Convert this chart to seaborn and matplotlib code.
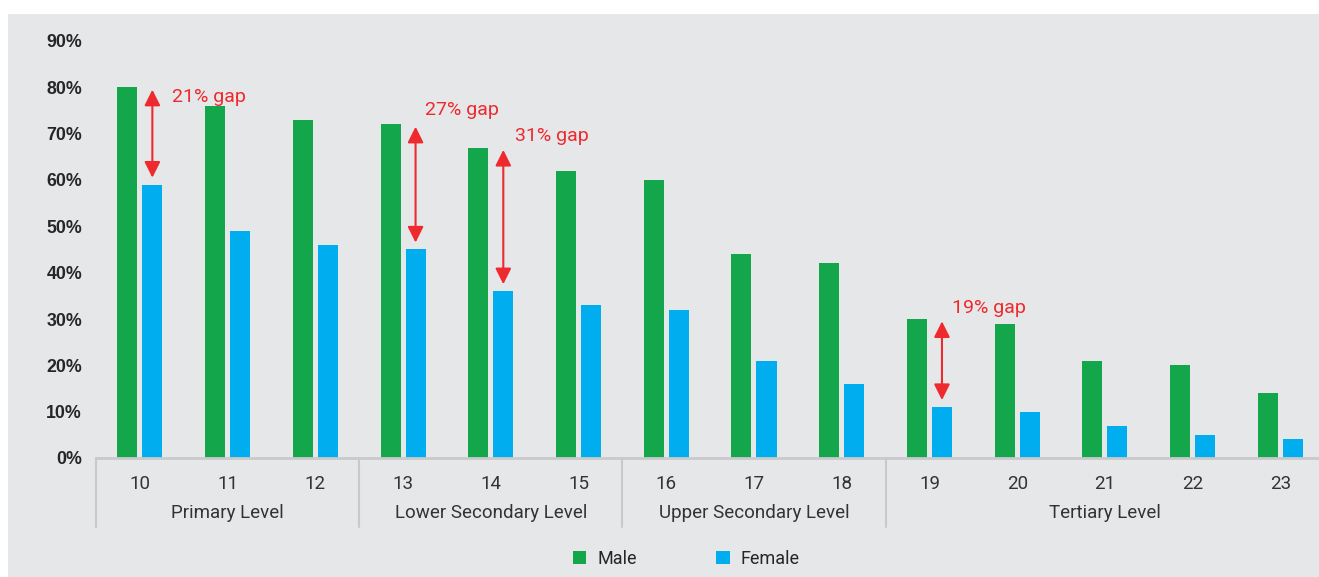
import pandas as pd
import matplotlib.pyplot as plt
import matplotlib.transforms as mtransforms
from matplotlib.patches import Rectangle
import seaborn as sns

# Data
ages = ['10', '11', '12', '13', '14', '15', '16', '17', '18', '19', '20', '21', '22', '23']
male = [80, 76, 73, 72, 67, 62, 60, 44, 42, 30, 29, 21, 20, 14]
female = [59, 49, 46, 45, 36, 33, 32, 21, 16, 11, 10, 7, 5, 4]
levels = ['Primary Level', 'Lower Secondary Level', 'Upper Secondary Level', 'Tertiary Level']
level_sizes = [3, 3, 3, 5]
gap_ages = ['10', '13', '14', '19']
gap_labels = ['21% gap', '27% gap', '31% gap', '19% gap']

# annotation placement (label height in % and x offset from the arrow)
gap_label_y = [78, 75, 69.5, 32.4]
gap_label_dx = [0.22, 0.11, 0.13, 0.11]

df = pd.DataFrame({
    'age': ages * 2,
    'gender': ['Male'] * len(ages) + ['Female'] * len(ages),
    'value': male + female,
})

BG = '#e6e7e9'
GREEN = '#13a64b'
BLUE = '#00aeef'
RED = '#ee2a2f'
GRID = '#c8c9cb'

sns.set_style('white')
plt.rcParams['font.family'] = ['Roboto', 'DejaVu Sans']

fig = plt.figure(figsize=(13.19, 5.77), dpi=100, facecolor='white')
fig.patches.append(Rectangle((8 / 1319, 0), 1, 1 - 14 / 577, transform=fig.transFigure,
                             facecolor=BG, edgecolor='none', zorder=-10))

ax = fig.add_axes([96 / 1319, 1 - 458 / 577, 1 - 96 / 1319, (458 - 41) / 577])
ax.set_facecolor('none')

sns.barplot(data=df, x='age', y='value', hue='gender', palette={'Male': GREEN, 'Female': BLUE},
            width=0.57, gap=0.2, saturation=1, linewidth=0, ax=ax)

ax.set_ylim(0, 90)
ax.set_xlim(-0.5, 13.44)
ax.set_yticks(range(0, 100, 10))
ax.set_yticklabels([f'{v}%' for v in range(0, 100, 10)], fontweight='bold', fontsize=12.8,
                   family=['Liberation Sans', 'DejaVu Sans'])
ax.tick_params(axis='y', length=0, pad=10)
ax.tick_params(axis='x', length=0, pad=12, labelsize=13.5, labelcolor='#333333')
ax.set_xlabel('')
ax.set_ylabel('')
for s in ['top', 'right', 'left']:
    ax.spines[s].set_visible(False)
ax.spines['bottom'].set_color(GRID)
ax.spines['bottom'].set_linewidth(2)

# Group separators and labels
trans = mtransforms.blended_transform_factory(ax.transData, ax.transAxes)
depth = -(527 - 458) / (458 - 41)
start = 0
bounds = [start - 0.5]
for name, n in zip(levels, level_sizes):
    end = start + n
    bounds.append(end - 0.5)
    ax.text((start + end - 1) / 2, -(513 - 458) / (458 - 41), name, transform=trans,
            ha='center', va='center', fontsize=13.5, color='#333333')
    start = end
for b in bounds[:-1]:
    ax.plot([b, b], [0, depth], transform=trans, color=GRID, lw=1.5, clip_on=False)

# Gap arrows
off = 0.57 / 4
for age, label, ly, dx in zip(gap_ages, gap_labels, gap_label_y, gap_label_dx):
    i = ages.index(age)
    m, f = male[i], female[i]
    ax.annotate('', xy=(i + off, m - 0.5), xytext=(i + off, f + 1.5),
                arrowprops=dict(arrowstyle='<|-|>', color=RED, lw=1.5, mutation_scale=24,
                                shrinkA=0, shrinkB=0))
    ax.text(i + off + dx, ly, label, color=RED, fontsize=14, ha='left', va='center')

# Legend
h, l = ax.get_legend_handles_labels()
ax.legend(h, l, loc='center', bbox_to_anchor=(686 / 1319, 1 - 559 / 577),
          bbox_transform=fig.transFigure, ncol=2, frameon=False, fontsize=13,
          handlelength=0.75, handleheight=0.75, handletextpad=0.6, columnspacing=4.4)

fig.savefig('out.png', dpi=100, facecolor='white')
